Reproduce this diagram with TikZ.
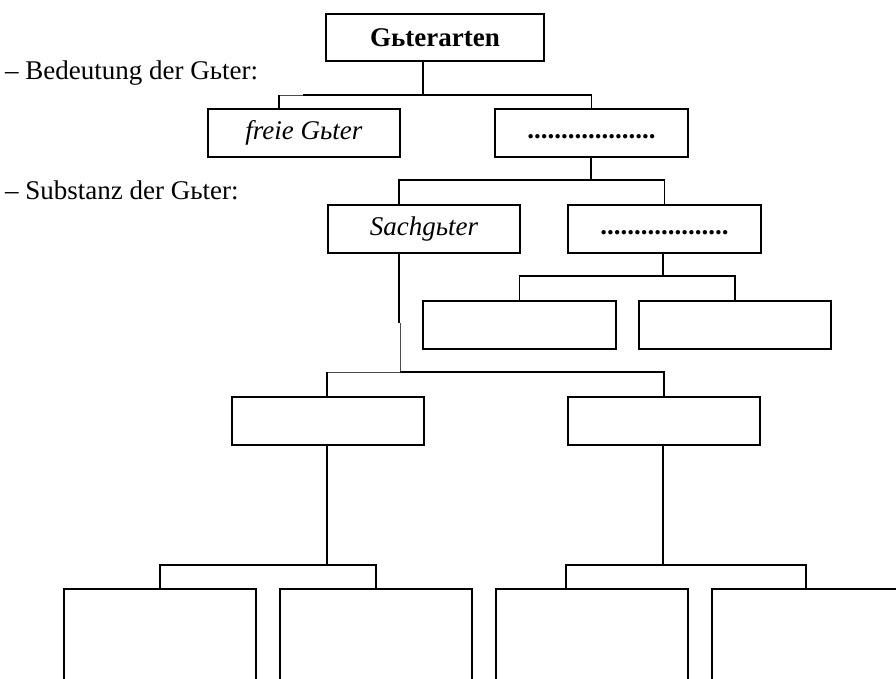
\documentclass[tikz,border=0pt]{standalone}
\usepackage{fontspec}
\setmainfont{Liberation Serif}
\usetikzlibrary{calc}
\newcommand{\dotrow}{\raisebox{-11pt}{\textbf{...................}}\hspace{16pt}}
\begin{document}
\begin{tikzpicture}[x=1pt,y=-1pt,
  box/.style={draw,line width=1.8pt,minimum width=192pt,minimum height=48pt,
    inner sep=0pt,anchor=north west,font=\fontsize{27}{30}\selectfont},
  link/.style={line width=1.8pt},
  faint/.style={line width=0.8pt,draw=black!70},
  lbl/.style={anchor=west,inner sep=0pt,font=\fontsize{27}{30}\selectfont}]
\useasboundingbox (0,0) rectangle (896,679);
\clip (0,0) rectangle (896,679);

% side labels
\node[lbl] (lab1) at (5,73) {– Bedeutung der Gьter:};
\node[lbl] (lab2) at (5,190) {– Substanz der Gьter:};

% tree boxes
\node[box,minimum width=218pt,minimum height=47pt] (title) at (325,13) {\textbf{Gьterarten}};
\node[box] (free) at (207,108) {\itshape freie Gьter};
\node[box,minimum width=193pt] (goods) at (494,108) {\dotrow};
\node[box] (sach) at (327,204) {\itshape Sachgьter};
\node[box,minimum width=193pt] (dienst) at (567,204) {\dotrow};
\node[box,minimum width=193pt] (c1) at (422,300) {};
\node[box] (c2) at (638,300) {};
\node[box] (d1) at (231,396) {};
\node[box] (d2) at (567,396) {};
\node[box,minimum height=130pt] (e1) at (63,588) {};
\node[box,minimum height=130pt] (e2) at (279,588) {};
\node[box,minimum height=130pt] (e3) at (495,588) {};
\node[box,minimum height=130pt] (e4) at (711,588) {};

% level 1 -> 2
\coordinate (j1) at (423,95);
\coordinate (j1a) at (303,95);
\coordinate (j1b) at (279,95);
\draw[link] (title.south -| j1) -- (j1);
\draw[link] (j1a) -| (goods.north);
\draw[faint] (j1a) -- (j1b);
\draw[link] (j1b) -- (j1b |- free.north);

% level 2 -> 3
\coordinate (j2) at (591,180);
\coordinate (sachin) at ($(sach.north west)+(72,0)$);
\draw[link] (goods.south -| j2) -- (j2);
\draw[link] (sachin) |- (j2) -| (dienst.north);

% level 3 -> 4
\coordinate (j3) at (663,276);
\draw[link] (dienst.south -| j3) -- (j3);
\draw[link] (c1.north) |- (j3) -| (c2.north);

% Sachgueter -> level 5
\coordinate (sachout) at ($(sach.south west)+(72,0)$);
\coordinate (k1) at (399,323);
\coordinate (k2) at (400,323);
\coordinate (k3) at (400,372);
\coordinate (k4) at (327,372);
\draw[link] (sachout) -- (k1);
\draw[faint] (k2) -- (k3) -- (k4);
\draw[link] (k3) -| (d2.north);
\draw[link] (k4) -- (k4 |- d1.north);

% level 5 -> 6
\coordinate (m1) at (327,565);
\coordinate (m2) at (663,565);
\draw[link] (d1.south -| m1) -- (m1);
\draw[link] (e1.north) |- (m1) -| (e2.north);
\draw[link] (d2.south -| m2) -- (m2);
\draw[link] ($(e3.north west)+(71,0)$) |- (m2) -| ($(e4.north west)+(95,0)$);
\end{tikzpicture}
\end{document}
